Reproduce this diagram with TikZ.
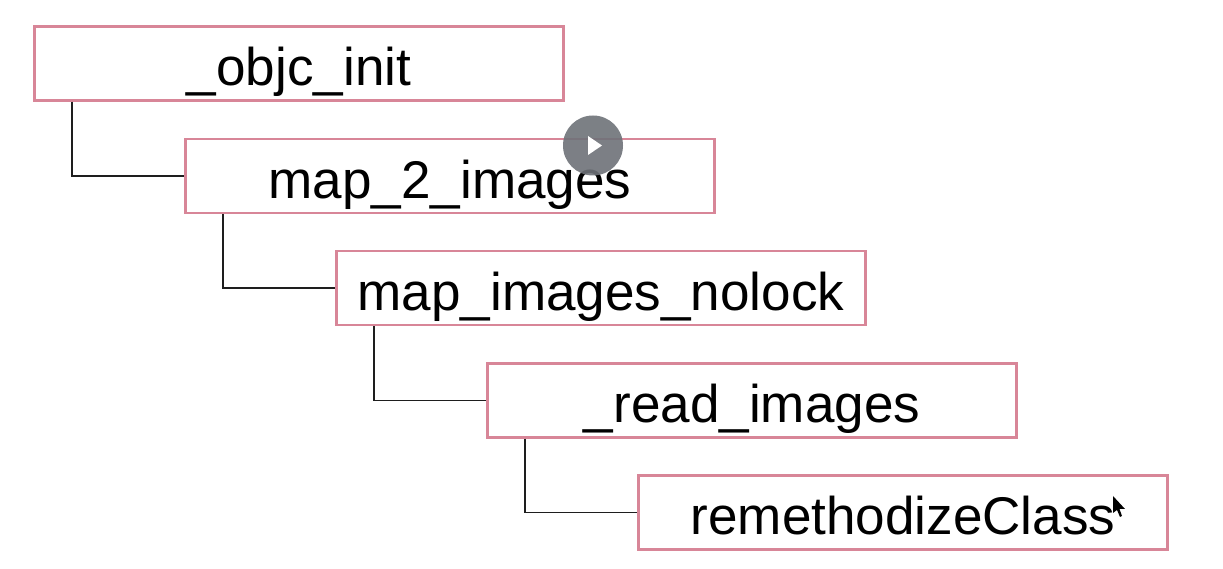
\documentclass[tikz,border=0pt]{standalone}
\usepackage{fontspec}
\setmainfont{Liberation Sans}
\usetikzlibrary{positioning,calc}
\definecolor{boxpink}{RGB}{216,134,152}
\definecolor{linegray}{RGB}{30,30,30}
\definecolor{playgray}{RGB}{110,114,120}
\tikzset{
  callbox/.style={draw=boxpink, line width=0.65pt, fill=white, rectangle, inner sep=0pt, minimum width=5.29cm, minimum height=0.74cm, text height=16pt, text depth=3.2pt, font=\fontsize{15.1pt}{18pt}\selectfont, text=black},
  callline/.style={draw=linegray, line width=0.45pt},
  playdot/.style={circle, fill=playgray, fill opacity=0.9, inner sep=0pt, minimum size=0.6cm}
}

\begin{document}
\begin{tikzpicture}
    \useasboundingbox (0,0) rectangle (12.23,5.69);

    % Box centres
    \coordinate (c1) at (2.99, 5.055);
    \coordinate (c2) at (4.50, 3.93);
    \coordinate (c3) at (6.01, 2.81);
    \coordinate (c4) at (7.52, 1.685);
    \coordinate (c5) at (9.03, 0.565);

    % Boxes
    \node[callbox] (objc) at (c1) {\_objc\_init};
    \node[callbox] (map2) at (c2) {map\_2\_images};
    \node[callbox] (nolock) at (c3) {map\_images\_nolock};
    \node[callbox] (read) at (c4) {\_read\_images};
    \node[callbox] (remeth) at (c5) {remethodizeClass};

    % Connectors
    \draw[callline] ($(objc.south west)+(0.385,0)$) |- (map2.west);
    \draw[callline] ($(map2.south west)+(0.385,0)$) |- (nolock.west);
    \draw[callline] ($(nolock.south west)+(0.385,0)$) |- (read.west);
    \draw[callline] ($(read.south west)+(0.385,0)$) |- (remeth.west);

    % Video play button
    \node[playdot] (play) at (5.93, 4.235) {};
    \fill[white] (5.88, 4.33) -- (6.02, 4.235) -- (5.88, 4.14) -- cycle;

    % Mouse pointer
    \fill[black] (11.13, 0.73) -- (11.13, 0.56) -- (11.17, 0.59) -- (11.20, 0.52) -- (11.22, 0.53) -- (11.195, 0.60) -- (11.25, 0.60) -- cycle;

\end{tikzpicture}
\end{document}
